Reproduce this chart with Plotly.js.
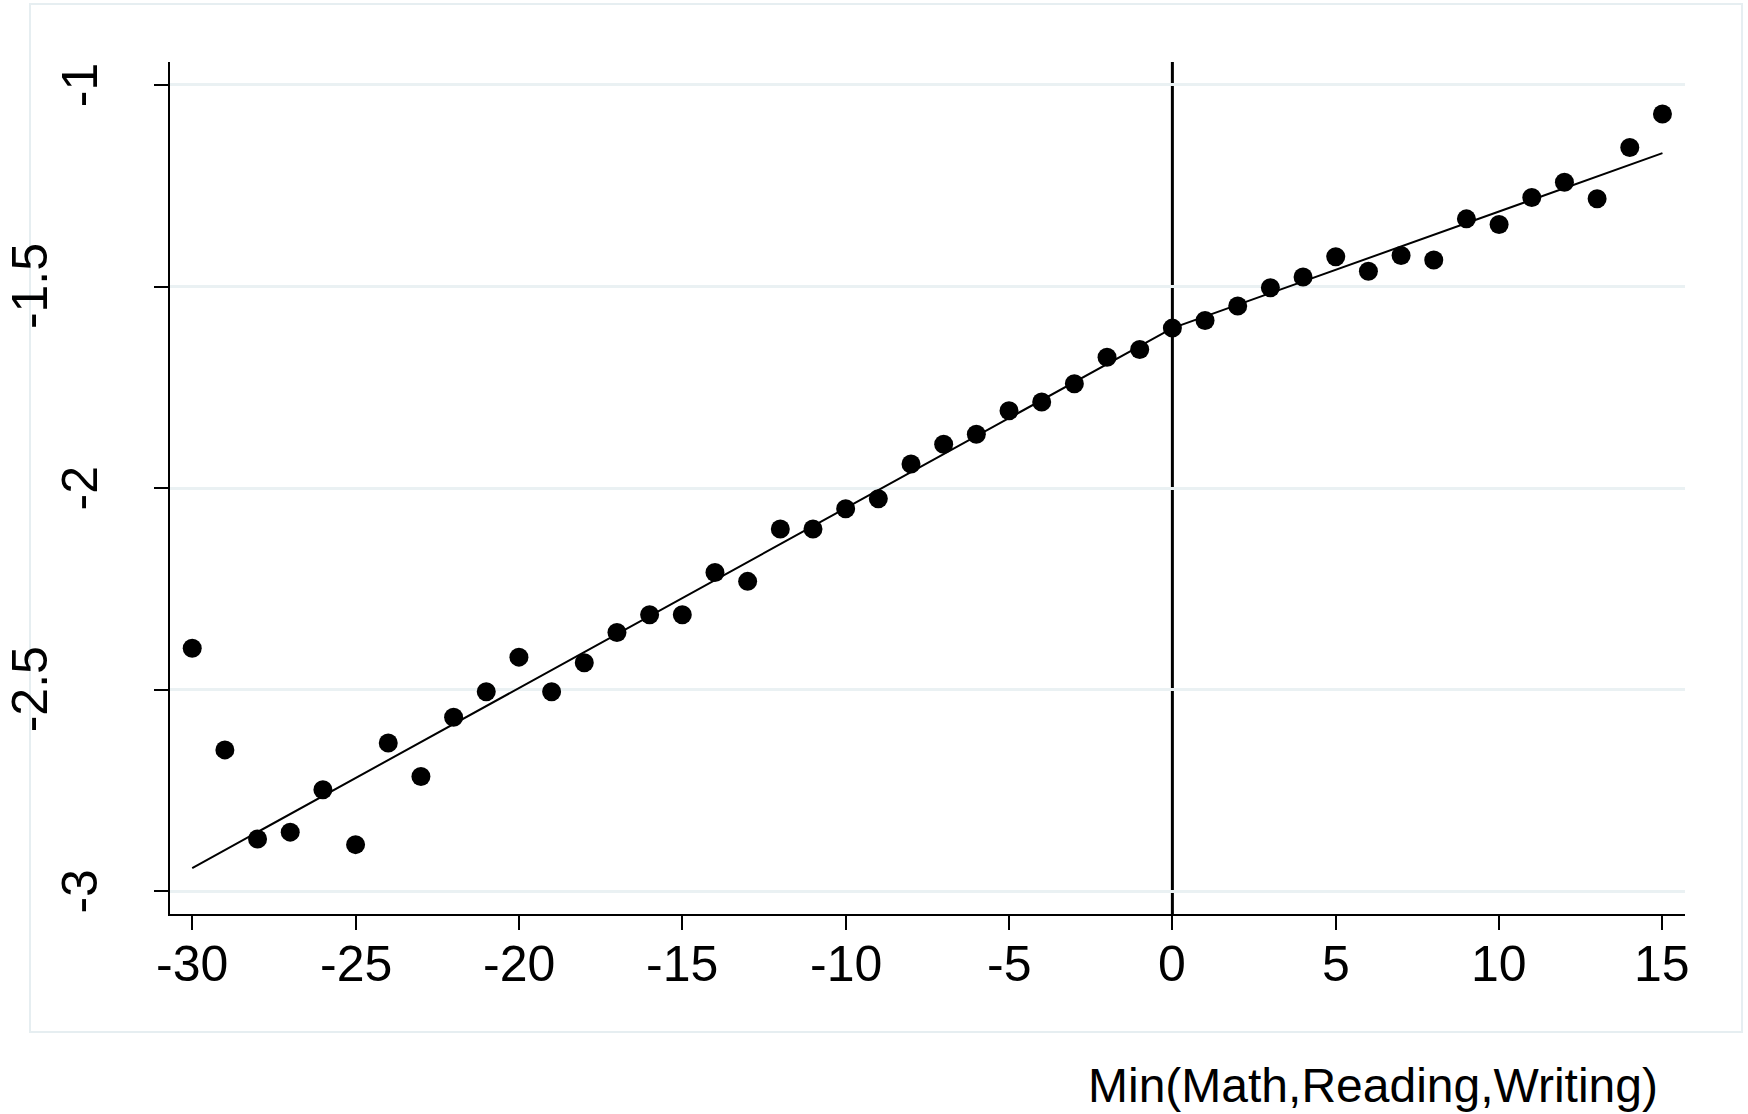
<!DOCTYPE html>
<html>
<head>
<meta charset="utf-8">
<script src="https://cdn.plot.ly/plotly-3.0.1.min.js"></script>
<style>
  html, body { margin: 0; padding: 0; background: #ffffff; }
  #chart { width: 1748px; height: 1114px; }
</style>
</head>
<body>
<div id="chart"></div>
<script>
// ---- data ----
var binX = [-30,-29,-28,-27,-26,-25,-24,-23,-22,-21,-20,-19,-18,-17,-16,-15,-14,-13,-12,-11,-10,-9,-8,-7,-6,-5,-4,-3,-2,-1,0,1,2,3,4,5,6,7,8,9,10,11,12,13,14,15];
var binY = [-2.397,-2.649,-2.870,-2.853,-2.748,-2.884,-2.632,-2.715,-2.568,-2.505,-2.419,-2.505,-2.433,-2.358,-2.314,-2.314,-2.209,-2.231,-2.101,-2.101,-2.051,-2.026,-1.940,-1.891,-1.866,-1.808,-1.786,-1.741,-1.675,-1.656,-1.603,-1.584,-1.548,-1.503,-1.476,-1.426,-1.462,-1.423,-1.434,-1.332,-1.346,-1.279,-1.241,-1.282,-1.155,-1.072];
var fitX = [-30, 0, 15];
var fitY = [-2.942, -1.603, -1.169];
var cutoff = 0;
var xTickVals = [-30,-25,-20,-15,-10,-5,0,5,10,15];
var xTickText = ['-30','-25','-20','-15','-10','-5','0','5','10','15'];
var yTickVals = [-3,-2.5,-2,-1.5,-1];
var yTickText = ['-3','-2.5','-2','-1.5','-1'];
var xTitle = 'Min(Math,Reading,Writing)';

// ---- layout geometry ----
var W = 1748, H = 1114;
var mL = 170, mR = 63, mT = 62, mB = 200;
var plotW = W - mL - mR, plotH = H - mT - mB;
function px2paperX(px) { return (px - mL) / plotW; }
function py2paperY(py) { return (H - mB - py) / plotH; }

var FONT = 'Liberation Sans, Arial, Helvetica, sans-serif';
var gridColor = '#eaf1f3';

var traces = [
  {
    type: 'scatter', mode: 'lines', x: fitX, y: fitY,
    line: { color: '#000000', width: 2 },
    hoverinfo: 'skip', showlegend: false
  },
  {
    type: 'scatter', mode: 'markers', x: binX, y: binY,
    marker: { color: '#000000', size: 19, line: { width: 0 } },
    showlegend: false
  }
];

var annotations = yTickVals.map(function (v, i) {
  var isHalf = Math.abs(v - Math.round(v)) > 1e-9;
  return {
    xref: 'paper', yref: 'y',
    x: px2paperX(isHalf ? 29.5 : 80.2), y: v,
    xanchor: 'center', yanchor: 'middle',
    text: yTickText[i], textangle: -90, showarrow: false,
    font: { family: FONT, size: 50, color: '#000000' }
  };
});
xTickVals.forEach(function (v, i) {
  annotations.push({
    xref: 'x', yref: 'paper',
    x: v, y: py2paperY(964.4),
    xanchor: 'center', yanchor: 'middle',
    text: xTickText[i], showarrow: false,
    font: { family: FONT, size: 50, color: '#000000' }
  });
});
annotations.push({
  xref: 'paper', yref: 'paper',
  x: px2paperX(1660), y: py2paperY(1085),
  xanchor: 'right', yanchor: 'middle',
  text: xTitle, showarrow: false,
  font: { family: FONT, size: 48, color: '#000000' }
});

var shapes = [
  {
    type: 'line', xref: 'x', yref: 'paper',
    x0: cutoff, x1: cutoff, y0: 0, y1: 1,
    line: { color: '#000000', width: 3 }, layer: 'below'
  },
  {
    type: 'rect', xref: 'paper', yref: 'paper',
    x0: px2paperX(30), x1: px2paperX(1742),
    y0: py2paperY(1032), y1: py2paperY(4),
    line: { color: '#e6eef1', width: 2 }, fillcolor: 'rgba(0,0,0,0)', layer: 'below'
  }
];

var layout = {
  width: W, height: H,
  margin: { l: mL, r: mR, t: mT, b: mB, pad: 0 },
  paper_bgcolor: '#ffffff', plot_bgcolor: '#ffffff',
  showlegend: false,
  font: { family: FONT, color: '#000000' },
  xaxis: {
    range: [-30.68, 15.69],
    tickmode: 'array', tickvals: xTickVals, ticktext: xTickText,
    ticks: 'outside', ticklen: 14, tickwidth: 2, tickcolor: '#000000',
    showticklabels: false,
    showline: true, linecolor: '#000000', linewidth: 2, mirror: false,
    showgrid: false, zeroline: false
  },
  yaxis: {
    range: [-3.056, -0.943],
    tickmode: 'array', tickvals: yTickVals, ticktext: yTickText,
    ticks: 'outside', ticklen: 14, tickwidth: 2, tickcolor: '#000000',
    showticklabels: false,
    showline: true, linecolor: '#000000', linewidth: 2, mirror: false,
    showgrid: true, gridcolor: gridColor, gridwidth: 3, zeroline: false
  },
  annotations: annotations,
  shapes: shapes
};

Plotly.newPlot('chart', traces, layout, { staticPlot: true, displayModeBar: false });
</script>
</body>
</html>
